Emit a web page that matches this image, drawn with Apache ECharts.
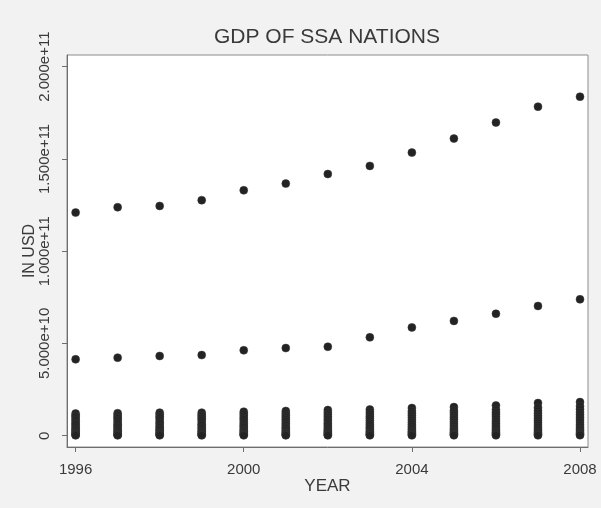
<!DOCTYPE html>
<html>
<head>
<meta charset="utf-8">
<title>GDP of SSA nations</title>
<script src="https://cdn.jsdelivr.net/npm/echarts@6/dist/echarts.min.js"></script>
<style>
  html, body { margin: 0; padding: 0; background: #f2f2f2; }
  #chart { width: 601px; height: 508px; }
</style>
</head>
<body>
<div id="chart"></div>
<script>
// Years on the horizontal axis and the tick positions shown on each axis
const years = [1996, 1997, 1998, 1999, 2000, 2001, 2002, 2003, 2004, 2005, 2006, 2007, 2008];
const yearTicks = [1996, 2000, 2004, 2008];
const usdTicks = [0, 5e10, 1e11, 1.5e11, 2e11];

// GDP (current USD) of the largest economy in the region
const gdpLargest = [1.209e11, 1.238e11, 1.245e11, 1.276e11, 1.330e11, 1.366e11, 1.418e11,
                    1.462e11, 1.534e11, 1.610e11, 1.697e11, 1.783e11, 1.837e11];
// GDP of the second largest economy
const gdpSecond = [4.14e10, 4.23e10, 4.32e10, 4.37e10, 4.63e10, 4.75e10, 4.82e10,
                   5.33e10, 5.87e10, 6.22e10, 6.61e10, 7.03e10, 7.39e10];

// GDP of the remaining (smaller) nations, one list per year
const gdpOthers1996 = [1.20e10, 1.09e10, 1.03e10, 9.1e9, 8.2e9, 7.0e9, 6.3e9, 5.4e9, 4.4e9, 3.6e9, 2.9e9, 2.1e9, 1.5e9, 9e8, 4e8, 2e8];
const gdpOthers1997 = [1.22e10, 1.12e10, 1.01e10, 9.4e9, 8.3e9, 7.2e9, 6.1e9, 5.5e9, 4.6e9, 3.7e9, 2.8e9, 2.2e9, 1.4e9, 8e8, 4e8, 2e8];
const gdpOthers1998 = [1.25e10, 1.15e10, 1.04e10, 9.6e9, 8.5e9, 7.3e9, 6.4e9, 5.3e9, 4.5e9, 3.5e9, 2.9e9, 2.0e9, 1.5e9, 9e8, 5e8, 2e8];
const gdpOthers1999 = [1.25e10, 1.13e10, 1.05e10, 9.4e9, 8.6e9, 7.4e9, 6.2e9, 5.6e9, 4.5e9, 3.8e9, 2.7e9, 2.1e9, 1.4e9, 8e8, 4e8, 2e8];
const gdpOthers2000 = [1.30e10, 1.19e10, 1.08e10, 9.7e9, 8.8e9, 7.6e9, 6.5e9, 5.5e9, 4.7e9, 3.7e9, 2.9e9, 2.2e9, 1.5e9, 9e8, 5e8, 2e8];
const gdpOthers2001 = [1.34e10, 1.22e10, 1.10e10, 1.00e10, 8.9e9, 7.8e9, 6.6e9, 5.7e9, 4.6e9, 3.9e9, 3.0e9, 2.1e9, 1.5e9, 9e8, 4e8, 2e8];
const gdpOthers2002 = [1.39e10, 1.26e10, 1.14e10, 1.03e10, 9.1e9, 8.0e9, 6.8e9, 5.8e9, 4.8e9, 3.8e9, 3.0e9, 2.2e9, 1.6e9, 1.0e9, 5e8, 2e8];
const gdpOthers2003 = [1.42e10, 1.29e10, 1.17e10, 1.05e10, 9.4e9, 8.2e9, 7.0e9, 6.0e9, 4.9e9, 4.0e9, 3.1e9, 2.3e9, 1.6e9, 1.0e9, 5e8, 2e8];
const gdpOthers2004 = [1.50e10, 1.33e10, 1.21e10, 1.09e10, 9.7e9, 8.5e9, 7.3e9, 6.2e9, 5.1e9, 4.1e9, 3.2e9, 2.4e9, 1.7e9, 1.1e9, 5e8, 2e8];
const gdpOthers2005 = [1.55e10, 1.36e10, 1.24e10, 1.12e10, 1.00e10, 8.8e9, 7.5e9, 6.4e9, 5.3e9, 4.2e9, 3.3e9, 2.5e9, 1.7e9, 1.1e9, 6e8, 2e8];
const gdpOthers2006 = [1.64e10, 1.41e10, 1.27e10, 1.15e10, 1.03e10, 9.0e9, 7.8e9, 6.6e9, 5.5e9, 4.4e9, 3.4e9, 2.5e9, 1.8e9, 1.2e9, 6e8, 2e8];
const gdpOthers2007 = [1.77e10, 1.52e10, 1.36e10, 1.22e10, 1.08e10, 9.5e9, 8.2e9, 7.0e9, 5.8e9, 4.6e9, 3.6e9, 2.7e9, 1.9e9, 1.2e9, 6e8, 2e8];
const gdpOthers2008 = [1.82e10, 1.60e10, 1.44e10, 1.28e10, 1.14e10, 1.00e10, 8.7e9, 7.4e9, 6.1e9, 4.9e9, 3.8e9, 2.9e9, 2.0e9, 1.3e9, 7e8, 3e8];

const gdpOthers = [gdpOthers1996, gdpOthers1997, gdpOthers1998, gdpOthers1999, gdpOthers2000,
                   gdpOthers2001, gdpOthers2002, gdpOthers2003, gdpOthers2004, gdpOthers2005,
                   gdpOthers2006, gdpOthers2007, gdpOthers2008];

// Build (year, gdp) pairs for the scatter
const points = [];
years.forEach((yr, i) => {
  points.push([yr, gdpLargest[i]]);
  points.push([yr, gdpSecond[i]]);
  gdpOthers[i].forEach(v => points.push([yr, v]));
});

const textColor = '#3a3a3a';
const axisColor = '#6e6e6e';
const font = '"Liberation Sans", Arial, sans-serif';

const chart = echarts.init(document.getElementById('chart'), null, { renderer: 'canvas' });
chart.setOption({
  backgroundColor: '#f2f2f2',
  animation: false,
  title: {
    text: 'GDP OF SSA NATIONS',
    left: 327,
    textAlign: 'center',
    top: 27,
    padding: 0,
    textStyle: { fontFamily: font, fontSize: 21, fontWeight: 'normal', color: textColor }
  },
  grid: {
    left: 67, right: 13, top: 55, bottom: 61,
    show: true,
    backgroundColor: '#ffffff',
    borderColor: '#8c8c8c',
    borderWidth: 1
  },
  xAxis: {
    type: 'value',
    min: 1995.795,
    max: 2008.19,
    name: 'YEAR',
    nameLocation: 'middle',
    nameGap: 31,
    nameMoveOverlap: false,
    nameTextStyle: { fontFamily: font, fontSize: 17, color: textColor },
    axisLine: { show: true, onZero: false, lineStyle: { color: axisColor, width: 1 } },
    axisTick: { show: true, customValues: yearTicks, length: 5, lineStyle: { color: axisColor } },
    axisLabel: {
      customValues: yearTicks,
      margin: 15,
      fontFamily: font, fontSize: 15, color: textColor,
      formatter: v => String(v)
    },
    splitLine: { show: false }
  },
  yAxis: {
    type: 'value',
    min: -6.12e9,
    max: 2.063e11,
    name: 'IN USD',
    nameLocation: 'middle',
    nameRotate: 90,
    nameGap: 29,
    nameMoveOverlap: false,
    nameTextStyle: { fontFamily: font, fontSize: 16, color: textColor },
    axisLine: { show: true, onZero: false, lineStyle: { color: axisColor, width: 1 } },
    axisTick: { show: true, customValues: usdTicks, length: 5, lineStyle: { color: axisColor } },
    axisLabel: {
      customValues: usdTicks,
      rotate: 90,
      margin: 15,
      fontFamily: font, fontSize: 15, color: textColor,
      formatter: v => (v === 0 ? '0' : v.toExponential(3))
    },
    splitLine: { show: false }
  },
  series: [{
    type: 'scatter',
    data: points,
    symbol: 'circle',
    symbolSize: 8,
    itemStyle: { color: '#232323', opacity: 1, borderColor: '#3a3a3a', borderWidth: 0.5 }
  }]
});
</script>
</body>
</html>
